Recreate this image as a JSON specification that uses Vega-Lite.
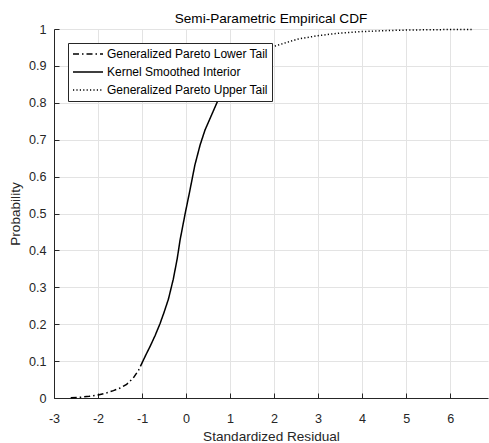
{
  "$schema": "https://vega.github.io/schema/vega-lite/v6.json",
  "width": 434,
  "height": 369,
  "autosize": {"type": "none"},
  "padding": {"left": 54, "top": 29, "right": 1, "bottom": 45},
  "background": "white",
  "title": {
    "text": "Semi-Parametric Empirical CDF",
    "font": "Liberation Sans",
    "fontSize": 13.6,
    "fontWeight": "normal",
    "color": "#000000",
    "anchor": "middle",
    "offset": -3
  },
  "data": {
    "values": [
      {"series": "Generalized Pareto Lower Tail", "x": -2.62, "p": 0.0005},
      {"series": "Generalized Pareto Lower Tail", "x": -2.4, "p": 0.002},
      {"series": "Generalized Pareto Lower Tail", "x": -2.2, "p": 0.0045},
      {"series": "Generalized Pareto Lower Tail", "x": -2.0, "p": 0.008},
      {"series": "Generalized Pareto Lower Tail", "x": -1.8, "p": 0.014},
      {"series": "Generalized Pareto Lower Tail", "x": -1.65, "p": 0.02},
      {"series": "Generalized Pareto Lower Tail", "x": -1.5, "p": 0.027},
      {"series": "Generalized Pareto Lower Tail", "x": -1.35, "p": 0.037},
      {"series": "Generalized Pareto Lower Tail", "x": -1.2, "p": 0.054},
      {"series": "Generalized Pareto Lower Tail", "x": -1.08, "p": 0.075},
      {"series": "Generalized Pareto Lower Tail", "x": -0.98, "p": 0.1},
      {"series": "Kernel Smoothed Interior", "x": -0.98, "p": 0.1},
      {"series": "Kernel Smoothed Interior", "x": -0.9, "p": 0.12},
      {"series": "Kernel Smoothed Interior", "x": -0.82, "p": 0.139},
      {"series": "Kernel Smoothed Interior", "x": -0.7, "p": 0.17},
      {"series": "Kernel Smoothed Interior", "x": -0.59, "p": 0.202},
      {"series": "Kernel Smoothed Interior", "x": -0.5, "p": 0.232},
      {"series": "Kernel Smoothed Interior", "x": -0.4, "p": 0.268},
      {"series": "Kernel Smoothed Interior", "x": -0.29, "p": 0.322},
      {"series": "Kernel Smoothed Interior", "x": -0.2, "p": 0.378},
      {"series": "Kernel Smoothed Interior", "x": -0.136, "p": 0.428},
      {"series": "Kernel Smoothed Interior", "x": -0.02, "p": 0.5},
      {"series": "Kernel Smoothed Interior", "x": 0.09, "p": 0.564},
      {"series": "Kernel Smoothed Interior", "x": 0.2, "p": 0.631},
      {"series": "Kernel Smoothed Interior", "x": 0.32, "p": 0.686},
      {"series": "Kernel Smoothed Interior", "x": 0.43, "p": 0.726},
      {"series": "Kernel Smoothed Interior", "x": 0.58, "p": 0.767},
      {"series": "Kernel Smoothed Interior", "x": 0.73, "p": 0.808},
      {"series": "Kernel Smoothed Interior", "x": 0.9, "p": 0.845},
      {"series": "Kernel Smoothed Interior", "x": 1.1, "p": 0.878},
      {"series": "Kernel Smoothed Interior", "x": 1.3, "p": 0.9},
      {"series": "Generalized Pareto Upper Tail", "x": 1.3, "p": 0.9},
      {"series": "Generalized Pareto Upper Tail", "x": 1.5, "p": 0.92},
      {"series": "Generalized Pareto Upper Tail", "x": 1.75, "p": 0.938},
      {"series": "Generalized Pareto Upper Tail", "x": 2.0, "p": 0.953},
      {"series": "Generalized Pareto Upper Tail", "x": 2.3, "p": 0.964},
      {"series": "Generalized Pareto Upper Tail", "x": 2.55, "p": 0.973},
      {"series": "Generalized Pareto Upper Tail", "x": 3.0, "p": 0.982},
      {"series": "Generalized Pareto Upper Tail", "x": 3.5, "p": 0.989},
      {"series": "Generalized Pareto Upper Tail", "x": 4.0, "p": 0.993},
      {"series": "Generalized Pareto Upper Tail", "x": 4.5, "p": 0.9955},
      {"series": "Generalized Pareto Upper Tail", "x": 5.0, "p": 0.997},
      {"series": "Generalized Pareto Upper Tail", "x": 5.5, "p": 0.998},
      {"series": "Generalized Pareto Upper Tail", "x": 6.0, "p": 0.9985},
      {"series": "Generalized Pareto Upper Tail", "x": 6.53, "p": 0.999}
    ]
  },
  "mark": {"type": "line", "color": "#000000", "strokeWidth": 1.5},
  "encoding": {
    "x": {
      "field": "x",
      "type": "quantitative",
      "scale": {"domain": [-3, 6.86], "nice": false, "zero": false},
      "axis": {
        "title": "Standardized Residual",
        "values": [-3, -2, -1, 0, 1, 2, 3, 4, 5, 6],
        "labelExpr": "'' + datum.value",
        "labelPadding": 19,
        "titlePadding": 5
      }
    },
    "y": {
      "field": "p",
      "type": "quantitative",
      "scale": {"domain": [0, 1], "nice": false, "zero": false},
      "axis": {
        "title": "Probability",
        "values": [0, 0.1, 0.2, 0.3, 0.4, 0.5, 0.6, 0.7, 0.8, 0.9, 1],
        "labelExpr": "'' + datum.value",
        "labelPadding": 13,
        "titlePadding": 6
      }
    },
    "strokeDash": {
      "field": "series",
      "type": "nominal",
      "scale": {
        "domain": ["Generalized Pareto Lower Tail", "Kernel Smoothed Interior", "Generalized Pareto Upper Tail"],
        "range": [[6, 3, 1.5, 3], [1, 0], [1.2, 2.2]]
      },
      "legend": {
        "title": null,
        "orient": "none",
        "legendX": 14,
        "legendY": 14,
        "symbolType": "stroke",
        "symbolSize": 900,
        "symbolStrokeWidth": 1.5,
        "symbolStrokeColor": "#000000",
        "clipHeight": 14,
        "labelFont": "Liberation Sans",
        "labelFontSize": 12,
        "labelColor": "#000000",
        "labelLimit": 400,
        "labelOffset": 3,
        "rowPadding": 4,
        "padding": 4,
        "fillColor": "#ffffff",
        "strokeColor": "#262626"
      }
    }
  },
  "config": {
    "view": {"stroke": null},
    "axis": {
      "grid": true,
      "gridColor": "#e3e3e3",
      "gridWidth": 1,
      "domainColor": "#262626",
      "domainWidth": 1,
      "tickColor": "#262626",
      "tickSize": -5,
      "tickWidth": 1,
      "labelFont": "Liberation Sans",
      "labelFontSize": 12.6,
      "labelColor": "#262626",
      "labelFlush": false,
      "labelOverlap": false,
      "titleFont": "Liberation Sans",
      "titleFontSize": 13.6,
      "titleFontWeight": "normal",
      "titleColor": "#262626"
    }
  }
}
